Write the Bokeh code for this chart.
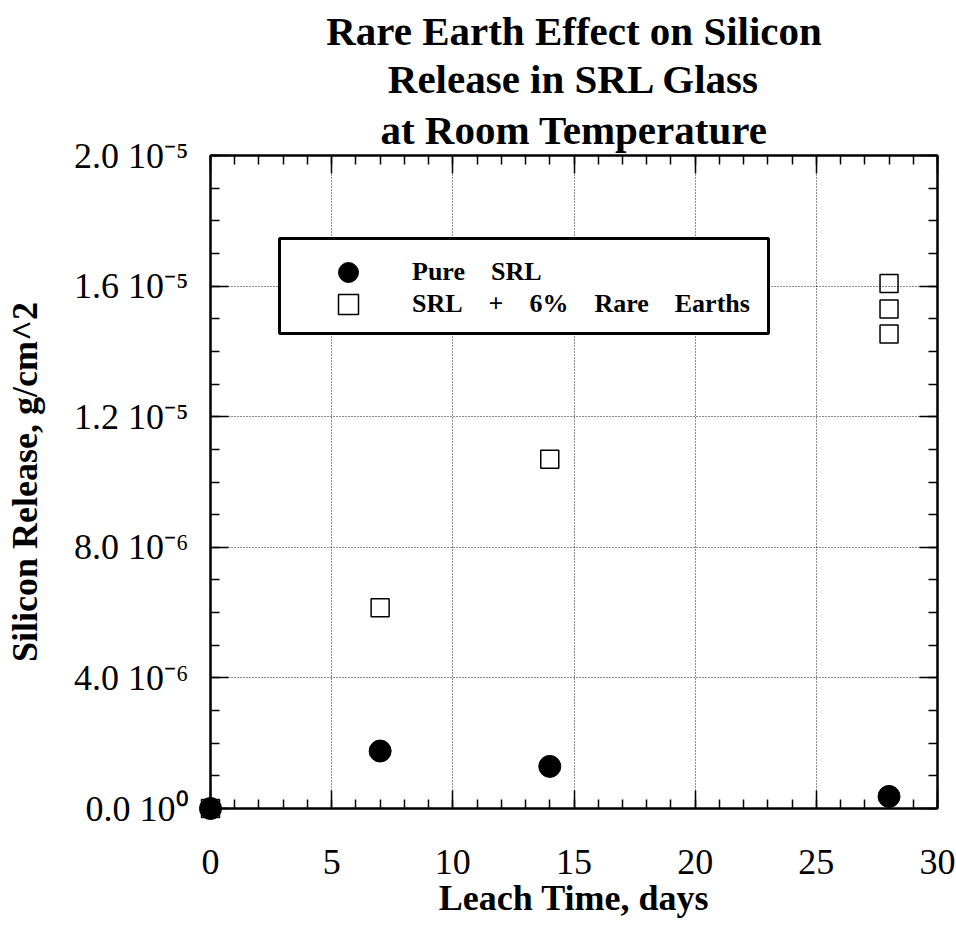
from bokeh.plotting import figure
from bokeh.models import (Range1d, LinearAxis, FixedTicker, CustomJSTickFormatter,
                          Legend, LegendItem, Title, BoxAnnotation, CustomLabelingPolicy)
from bokeh.embed import file_html
from bokeh.resources import INLINE
import numpy as np

# ---- data ----
pure_days = [0, 7, 14, 28]
pure_si = [0.0, 1.76e-6, 1.29e-6, 0.37e-6]

re_days = [0, 7, 14, 28, 28, 28]
re_si = [0.0, 6.15e-6, 10.7e-6, 16.08e-6, 15.30e-6, 14.53e-6]

x_ticks = [0, 5, 10, 15, 20, 25, 30]
y_ticks = [0.0, 4e-6, 8e-6, 1.2e-5, 1.6e-5, 2.0e-5]
y_tick_labels = ["0.0 10\u2070", "4.0 10\u207b\u2076", "8.0 10\u207b\u2076",
                 "1.2 10\u207b\u2075", "1.6 10\u207b\u2075", "2.0 10\u207b\u2075"]
title_lines = ["Rare Earth Effect on Silicon", "Release in SRL Glass", "at Room Temperature"]
NB = "\u00a0\u00a0\u00a0\u00a0"
legend_labels = ["Pure" + NB + "SRL", "SRL" + NB + "+" + NB + "6%" + NB + "Rare" + NB + "Earths"]

SERIF = "Liberation Serif"

p = figure(width=956, height=937, output_backend="svg", toolbar_location=None,
           x_range=Range1d(0, 30), y_range=Range1d(0, 2e-5),
           min_border_left=210, min_border_right=19, min_border_bottom=129,
           min_border_top=155, title=None)
p.outline_line_color = "black"
p.outline_line_width = 2

x_major = FixedTicker(ticks=x_ticks, minor_ticks=list(np.arange(0, 31, 1)))
y_major = FixedTicker(ticks=y_ticks, minor_ticks=list(np.arange(0, 21, 1) * 1e-6))

yfmt = CustomJSTickFormatter(args=dict(vals=y_ticks, labs=y_tick_labels), code="""
for (let i = 0; i < vals.length; i++) { if (Math.abs(vals[i] - tick) < 1e-9) return labs[i]; }
return "";
""")

no_labels = CustomLabelingPolicy(code="""
const n = indices.size;
for (let i = 0; i < n; i++) { indices.unset(i); }
return indices;
""")

def style_axis(ax, show_labels):
    ax.axis_line_color = "black"
    ax.axis_line_width = 2
    ax.major_tick_in = 18
    ax.major_tick_out = 0
    ax.minor_tick_in = 9
    ax.minor_tick_out = 0
    ax.major_tick_line_width = 1.5
    ax.minor_tick_line_width = 1.5
    ax.major_tick_line_color = "black"
    ax.minor_tick_line_color = "black"
    if not show_labels:
        ax.major_label_policy = no_labels
        ax.major_label_text_font_size = "0px"
        ax.major_label_standoff = 0

# bottom axis
xa = p.xaxis[0]
xa.ticker = x_major
style_axis(xa, True)
xa.major_label_text_font = SERIF
xa.major_label_text_font_size = "36px"
xa.major_label_text_color = "black"
xa.major_label_standoff = 41
xa.axis_label = "Leach Time, days"
xa.axis_label_text_font = SERIF
xa.axis_label_text_font_style = "bold"
xa.axis_label_text_font_size = "36px"
xa.axis_label_text_color = "black"
xa.axis_label_standoff = 1

# left axis
ya = p.yaxis[0]
ya.ticker = y_major
ya.formatter = yfmt
style_axis(ya, True)
ya.major_label_text_font = SERIF
ya.major_label_text_font_size = "36px"
ya.major_label_text_color = "black"
ya.major_label_standoff = 22
ya.axis_label = "Silicon Release, g/cm^2"
ya.axis_label_text_font = SERIF
ya.axis_label_text_font_style = "bold"
ya.axis_label_text_font_size = "36px"
ya.axis_label_text_color = "black"
ya.axis_label_standoff = 26

# mirror axes
top = LinearAxis(ticker=x_major)
style_axis(top, False)
p.add_layout(top, "above")
right = LinearAxis(ticker=y_major)
style_axis(right, False)
p.add_layout(right, "right")

# grid
for g in (p.xgrid[0], p.ygrid[0]):
    g.grid_line_color = "black"
    g.grid_line_dash = "1 2"
    g.grid_line_width = 1
    g.grid_line_alpha = 0.9
p.xgrid[0].ticker = x_major
p.ygrid[0].ticker = y_major

# titles (last added is outermost)
title_standoffs = [0, 0, 6]
for line, so in reversed(list(zip(title_lines, title_standoffs))):
    t = Title(text=line, align="center", text_font=SERIF, text_font_style="bold",
              text_font_size="41px", text_color="black", standoff=so, offset=0)
    p.add_layout(t, "above")

# data
r_re = p.scatter(re_days, re_si, marker="square", size=18, fill_color=None,
                 line_color="black", line_width=1.5, level="overlay")
r_pure = p.scatter(pure_days, pure_si, marker="circle", size=22, fill_color="black",
                   line_color="black", level="overlay")

# legend frame
box = BoxAnnotation(left=279, right=768, top=238, bottom=333,
                    left_units="canvas", right_units="canvas",
                    top_units="canvas", bottom_units="canvas",
                    fill_color="white", fill_alpha=1.0,
                    line_color="black", line_width=3, line_alpha=1.0)
p.add_layout(box)

def make_legend(label, rend, y_loc):
    lg = Legend(items=[LegendItem(label=label, renderers=[rend])],
                location=(113, y_loc), orientation="vertical")
    lg.border_line_color = None
    lg.background_fill_alpha = 0
    lg.label_text_font = SERIF
    lg.label_text_font_style = "bold"
    lg.label_text_font_size = "26px"
    lg.label_text_color = "black"
    lg.glyph_height = 50
    lg.glyph_width = 50
    lg.padding = 0
    lg.margin = 0
    lg.spacing = 0
    lg.label_standoff = 39
    lg.label_height = 20
    return lg

p.add_layout(make_legend(legend_labels[0], r_pure, 511), "center")
p.add_layout(make_legend(legend_labels[1], r_re, 479), "center")

open("out.html", "w").write(file_html(p, INLINE))
